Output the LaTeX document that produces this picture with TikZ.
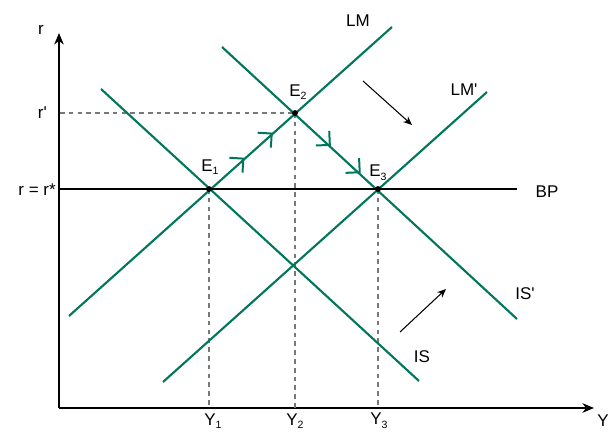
\documentclass[tikz,border=0pt]{standalone}
\usepackage{fontspec}
\setmainfont{Liberation Sans}
\usepackage{tikz}
\usetikzlibrary{arrows.meta,decorations.markings}
\definecolor{curvegreen}{RGB}{0,118,90}
\definecolor{guidegray}{RGB}{120,120,120}
\newcommand{\lowidx}[1]{\raisebox{-0.4ex}{\fontsize{9}{9}\selectfont #1}}

\begin{document}
\begin{tikzpicture}[
  x=0.03cm, y=-0.03cm,
  axis/.style={line width=2.4pt, -{Stealth[length=3.4mm, width=2.8mm, inset=1mm]}},
  bpline/.style={line width=2.2pt},
  curve/.style={curvegreen, line width=1.8pt},
  guide/.style={guidegray, line width=1.2pt, dash pattern=on 4pt off 3.5pt},
  shiftarrow/.style={line width=0.9pt, -{Stealth[length=2.6mm, width=2.2mm, inset=0.8mm]}},
  pathmark/.style={postaction={decorate, decoration={markings,
      mark=at position #1 with {\draw[curvegreen, line width=1.7pt, line join=miter]
        (-8.5pt,8.5pt) -- (0pt,0pt) -- (-8.5pt,-8.5pt);}}}},
  lbl/.style={font=\fontsize{14.5}{17}\selectfont, inner sep=0pt},
  dot/.style={circle, fill=black, inner sep=0pt, minimum size=5pt}
]
\useasboundingbox (0,0) rectangle (611,433);

% axes
\coordinate (origin) at (59,408);
\coordinate (rtop) at (59,33);
\coordinate (yend) at (594,408);
\draw[axis] (origin) -- (rtop);
\draw[axis] (origin) -- (yend);
\node[lbl] (rlab) at (41,30) {r};
\node[lbl] (ylab) at (603,421) {Y};

% equilibria
\coordinate (e1) at (209,189);
\coordinate (e2) at (295,113);
\coordinate (e3) at (378,189);

% guides
\coordinate (rprime) at (60,113);
\draw[guide] (rprime) -- (e2);
\draw[guide] (e1) -- (e1 |- origin);
\draw[guide] (e2) -- (e2 |- origin);
\draw[guide] (e3) -- (e3 |- origin);

% curves
\coordinate (lma) at (69,316);
\coordinate (lmb) at (392,27);
\coordinate (lmpa) at (163,382);
\coordinate (lmpb) at (487,92);
\coordinate (isa) at (101,89);
\coordinate (isb) at (419,381);
\coordinate (ispa) at (222,47);
\coordinate (ispb) at (517,319);
\draw[curve] (lma) -- (lmb);
\draw[curve] (lmpa) -- (lmpb);
\draw[curve] (isa) -- (isb);
\draw[curve] (ispa) -- (ispb);

% adjustment path
\path[pathmark=0.40, pathmark=0.73] (e1) -- (e2);
\path[pathmark=0.42, pathmark=0.78] (e2) -- (e3);

% BP
\coordinate (bpa) at (59,189);
\coordinate (bpb) at (517,189);
\draw[bpline] (bpa) -- (bpb);

\node[dot] (d1) at (e1) {};
\node[dot] (d2) at (e2) {};
\node[dot] (d3) at (e3) {};

% shifts
\coordinate (lmfrom) at (363,81);
\coordinate (lmto) at (412,125);
\coordinate (isfrom) at (400,332);
\coordinate (isto) at (446,289);
\draw[shiftarrow] (lmfrom) -- (lmto);
\draw[shiftarrow] (isfrom) -- (isto);

% labels
\node[lbl, anchor=east] (rplab) at (47,113) {r\textquotesingle};
\node[lbl, anchor=east] (rstar) at (56,190) {r = r*};
\node[lbl] (lmlab) at (358,21) {LM};
\node[lbl] (lmplab) at (464,90) {LM\textquotesingle};
\node[lbl] (bplab) at (547,192) {BP};
\node[lbl] (isplab) at (525,294) {IS\textquotesingle};
\node[lbl] (islab) at (422,357) {IS};
\node[lbl] (e1lab) at (210,167) {E\lowidx{1}};
\node[lbl] (e2lab) at (298,92) {E\lowidx{2}};
\node[lbl] (e3lab) at (378,173) {E\lowidx{3}};
\node[lbl] (y1lab) at (213,421) {Y\lowidx{1}};
\node[lbl] (y2lab) at (295,421) {Y\lowidx{2}};
\node[lbl] (y3lab) at (379,421) {Y\lowidx{3}};
\end{tikzpicture}
\end{document}
